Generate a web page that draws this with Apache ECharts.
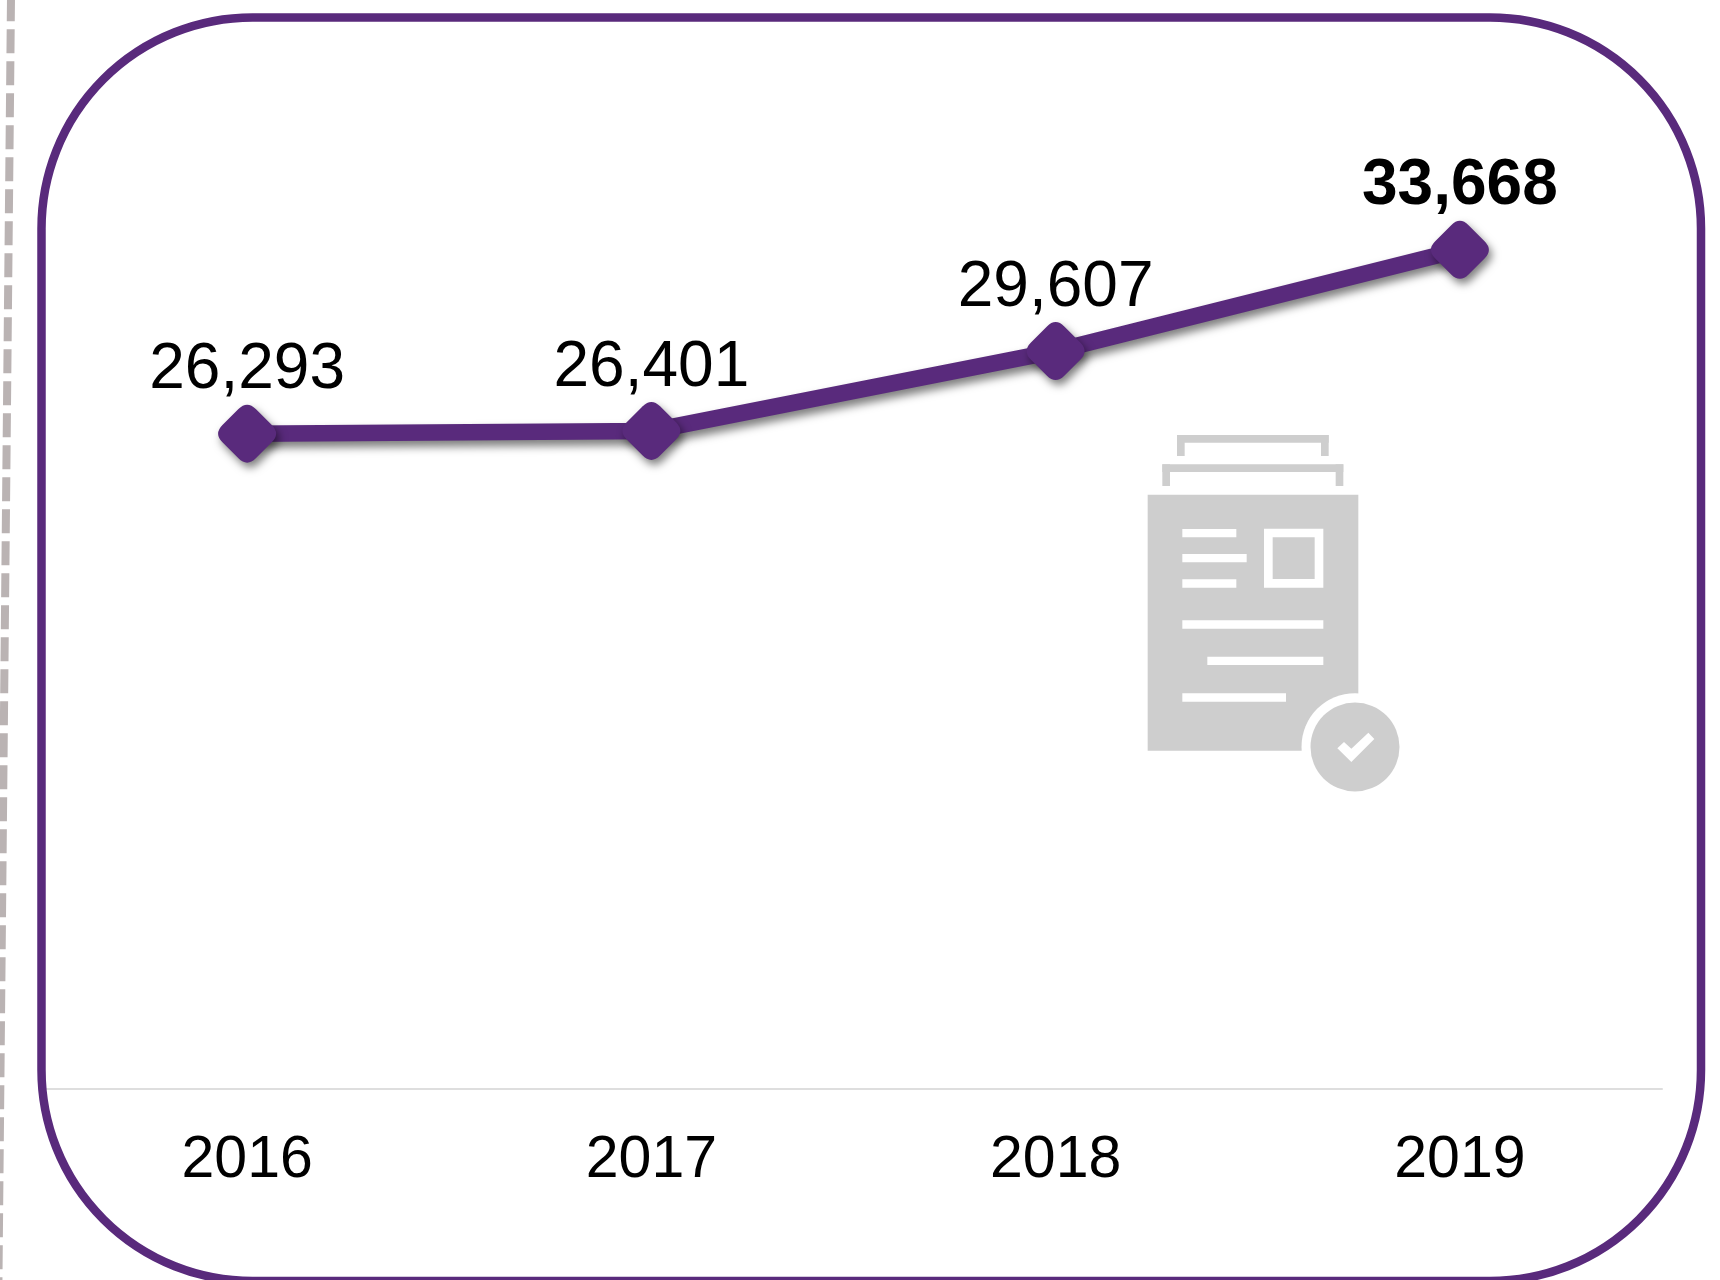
<!DOCTYPE html>
<html>
<head>
<meta charset="utf-8">
<style>html,body{margin:0;padding:0;background:#fff}#c{width:1720px;height:1280px}</style>
<script src="https://cdn.jsdelivr.net/npm/echarts@6/dist/echarts.min.js"></script>
</head>
<body>
<div id="c"></div>
<script>
const categories = ['2016', '2017', '2018', '2019'];
const values = [26293, 26401, 29607, 33668];
const boldYear = '2019';

const PURPLE = '#592A7C', ICON = '#CECECE', DASH = '#BAB3B3';
const FONT = '"Liberation Sans", Arial, sans-serif';
const DIAMOND = 'path://M37 13Q50 0 63 13L87 37Q100 50 87 63L63 87Q50 100 37 87L13 63Q0 50 13 37Z';

const rect = (x1, y1, x2, y2, fill) => ({
  type: 'rect', silent: true,
  shape: { x: x1, y: y1, width: x2 - x1, height: y2 - y1 },
  style: { fill }
});
const zx = v => 1120 + v / 3, zy = v => 410 + v / 3;
const zrect = (a, b, c, d, fill) => rect(zx(a), zy(b), zx(c), zy(d), fill);
const bracket = (a, b, c, d) => [
  zrect(a, b, c, b + 23, ICON),
  zrect(a, b, a + 23, d, ICON),
  zrect(c - 23, b, c, d, ICON)
];
const circle = (cx, cy, r, fill) => ({ type: 'circle', silent: true, shape: { cx, cy, r }, style: { fill } });

const icon = [
  ...bracket(171, 75, 626, 138),
  ...bracket(127, 163, 670, 228),
  zrect(83, 254, 715, 1022, ICON),
  zrect(187, 357, 349, 382, '#fff'),
  zrect(187, 432, 380, 457, '#fff'),
  zrect(187, 508, 349, 533, '#fff'),
  zrect(432, 356, 610, 533, '#fff'),
  zrect(458, 382, 584, 507, ICON),
  zrect(187, 631, 610, 656, '#fff'),
  zrect(262, 740, 610, 765, '#fff'),
  zrect(187, 850, 498, 875, '#fff'),
  circle(zx(705), zy(1010), 53.5, '#fff'),
  circle(zx(705), zy(1011), 44.5, ICON),
  {
    type: 'polygon', silent: true,
    shape: { points: [[652,1015],[672,996],[694,1016],[745,968],[763,987],[694,1056]].map(p => [zx(p[0]), zy(p[1])]) },
    style: { fill: '#fff' }
  }
];

const chart = echarts.init(document.getElementById('c'), null, { renderer: 'canvas' });
chart.setOption({
  animation: false,
  backgroundColor: '#fff',
  grid: { left: 45, right: 58, top: 92, bottom: 191, containLabel: false },
  xAxis: {
    type: 'category',
    data: categories,
    boundaryGap: true,
    axisTick: { show: false },
    axisLine: { show: true, lineStyle: { color: '#DEDEDE', width: 2 } },
    axisLabel: { color: '#000', fontFamily: FONT, fontSize: 59, margin: 42 }
  },
  yAxis: { type: 'value', min: 0, max: 40000, show: false, splitLine: { show: false } },
  graphic: { elements: [
    { type: 'line', silent: true, z: -1,
      shape: { x1: 11, y1: -2.7, x2: -1.6, y2: 1285 },
      style: { stroke: DASH, lineWidth: 8, lineDash: [24, 8] } },
    { type: 'rect', silent: true, z: 10,
      shape: { x: 41.5, y: 17.5, width: 1659.5, height: 1263.5, r: 211 },
      style: { fill: 'none', stroke: PURPLE, lineWidth: 8.5 } },
    ...icon.map(e => Object.assign(e, { z: -1 }))
  ] },
  series: [{
    type: 'line',
    data: values.map((v, i) => categories[i] === boldYear
      ? { value: v, label: { fontWeight: 'bold' } }
      : v),
    symbol: DIAMOND,
    symbolSize: 58,
    showSymbol: true,
    showAllSymbol: true,
    lineStyle: { color: PURPLE, width: 16.5, shadowColor: 'rgba(0,0,0,0.5)', shadowBlur: 8, shadowOffsetX: 2, shadowOffsetY: 6, cap: 'butt' },
    itemStyle: { color: PURPLE, shadowColor: 'rgba(0,0,0,0.5)', shadowBlur: 8, shadowOffsetX: 3, shadowOffsetY: 5 },
    label: {
      show: true,
      position: 'top',
      distance: 2,
      color: '#000',
      fontFamily: FONT,
      fontSize: 64,
      formatter: p => p.value.toLocaleString('en-US')
    }
  }]
});
</script>
</body>
</html>
